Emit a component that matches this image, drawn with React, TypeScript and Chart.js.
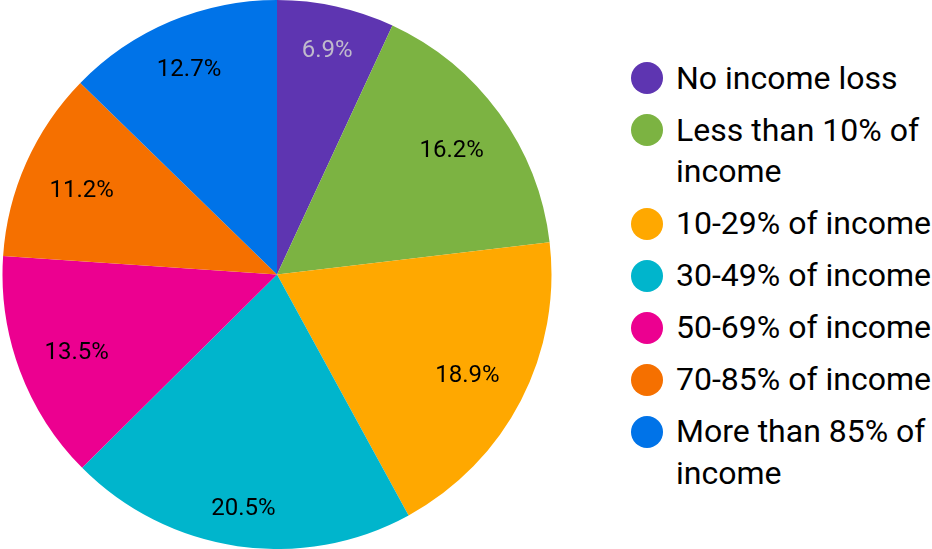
import React, { useEffect, useRef } from "react";
import { Chart, registerables } from "chart.js";

Chart.register(...registerables);

const categories = [
  "No income loss",
  "Less than 10% of income",
  "10-29% of income",
  "30-49% of income",
  "50-69% of income",
  "70-85% of income",
  "More than 85% of income",
];
const legendLines = [
  ["No income loss"],
  ["Less than 10% of", "income"],
  ["10-29% of income"],
  ["30-49% of income"],
  ["50-69% of income"],
  ["70-85% of income"],
  ["More than 85% of", "income"],
];
const values = [6.9, 16.2, 18.9, 20.5, 13.5, 11.2, 12.7];
const sliceLabels = ["6.9%", "16.2%", "18.9%", "20.5%", "13.5%", "11.2%", "12.7%"];
const colors = ["#5E35B1", "#7CB342", "#FFA800", "#00B5CC", "#EC0090", "#F57000", "#0073E8"];
const labelColors = ["#c0bacc", "#000000", "#000000", "#000000", "#000000", "#000000", "#000000"];

const FONT = "Roboto, 'Noto Sans', Arial, sans-serif";

const labelPlugin = {
  id: "sliceLabels",
  afterDatasetsDraw(chart: any) {
    const ctx = chart.ctx;
    const meta = chart.getDatasetMeta(0);
    ctx.save();
    ctx.font = `24px ${FONT}`;
    ctx.textAlign = "center";
    ctx.textBaseline = "middle";
    meta.data.forEach((arc: any, i: number) => {
      const p = arc.getProps(["x", "y", "startAngle", "endAngle", "outerRadius"], true);
      const mid = (p.startAngle + p.endAngle) / 2;
      const hw = ctx.measureText(sliceLabels[i]).width / 2;
      const hh = 9;
      const c = Math.cos(mid);
      const s = Math.sin(mid);
      const r = p.outerRadius * 0.9 - (hw * Math.abs(c) + hh * Math.abs(s));
      ctx.fillStyle = labelColors[i];
      ctx.fillText(sliceLabels[i], p.x + c * r, p.y + s * r + 3.5);
    });
    ctx.restore();
  },
};

export default function App() {
  const ref = useRef<HTMLCanvasElement | null>(null);
  useEffect(() => {
    document.body.style.margin = "0";
    const chart = new Chart(ref.current!, {
      type: "pie",
      data: {
        labels: categories,
        datasets: [
          {
            data: values,
            backgroundColor: colors,
            borderWidth: 0,
            hoverOffset: 0,
          },
        ],
      },
      options: {
        animation: false,
        responsive: false,
        maintainAspectRatio: false,
        events: [],
        layout: { padding: 0 },
        plugins: {
          legend: { display: false },
          tooltip: { enabled: false },
        },
      },
      plugins: [labelPlugin],
    });
    return () => chart.destroy();
  }, []);

  return (
    <div style={{ position: "relative", width: 932, height: 549, background: "#fff", overflow: "hidden" }}>
      <canvas ref={ref} width={554} height={549} style={{ position: "absolute", left: 0, top: 0 }} />
      <div style={{ position: "absolute", left: 631, top: 57.5, fontFamily: FONT, fontSize: 32, color: "#000" }}>
        {legendLines.map((lines, i) => (
          <div key={i} style={{ display: "flex", alignItems: "flex-start", marginBottom: 10.5 }}>
            <div
              style={{
                width: 32,
                height: 32,
                borderRadius: "50%",
                background: colors[i],
                marginTop: 4.75,
                marginRight: 13,
                flex: "none",
              }}
            />
            <div style={{ lineHeight: "41.5px", whiteSpace: "nowrap" }}>
              {lines.map((l, j) => (
                <div key={j}>{l}</div>
              ))}
            </div>
          </div>
        ))}
      </div>
    </div>
  );
}
